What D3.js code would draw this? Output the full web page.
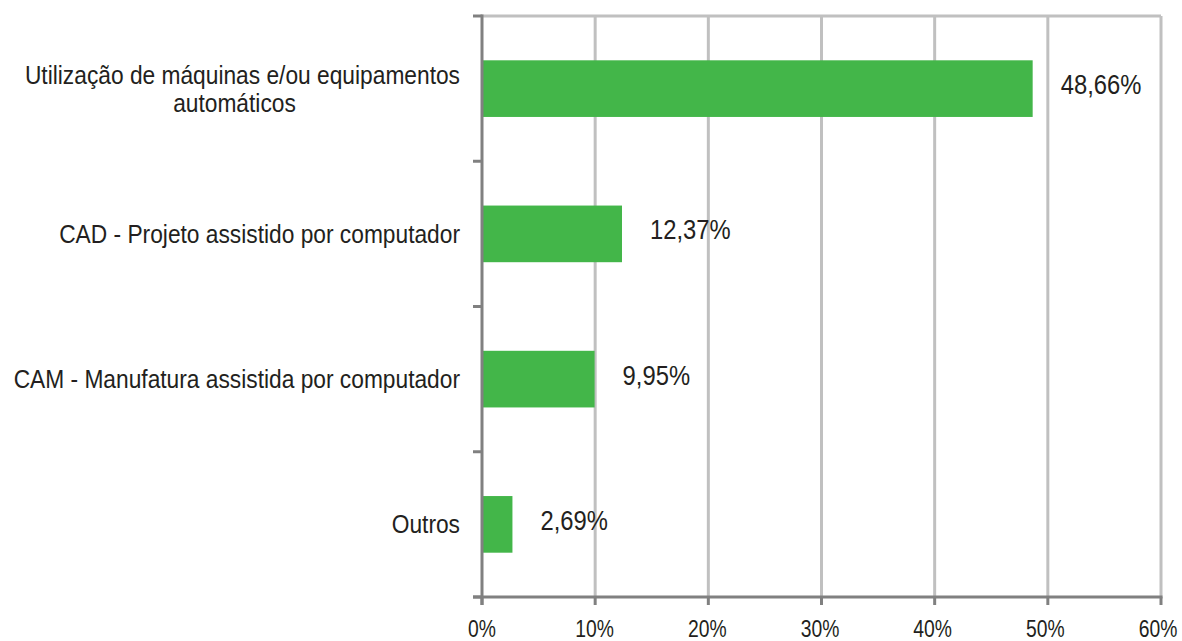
<!DOCTYPE html>
<html>
<head>
<meta charset="utf-8">
<script src="https://cdn.jsdelivr.net/npm/d3@7"></script>
<style>
  body { margin: 0; background: #fff; }
  text { font-family: "Liberation Sans", Arial, sans-serif; fill: #231f20; }
</style>
</head>
<body>
<svg id="svg" width="1182" height="641"></svg>
<script>
const categories = [
    ["Utilização de máquinas e/ou equipamentos", "automáticos"],
    ["CAD - Projeto assistido por computador"],
    ["CAM - Manufatura assistida por computador"],
    ["Outros"]
];
const values = [48.66, 12.37, 9.95, 2.69];
const tickValues = [0, 10, 20, 30, 40, 50, 60];

const margin = {top: 16, right: 21, bottom: 44, left: 482};
const width = 1182, height = 641;

const svg = d3.select("#svg");
const data = categories.map((c, i) => ({lines: c, value: values[i], key: i}));

const x = d3.scaleLinear([0, 60], [margin.left, width - margin.right]);
const y = d3.scaleBand(data.map(d => d.key), [margin.top, height - margin.bottom])
    .paddingInner(0.61)
    .paddingOuter(0.305);

const yBottom = height - margin.bottom;
const bandStep = y.step();

// squeeze text to look like a narrow font
function narrow(sel, factor) {
    sel.each(function() {
        const len = this.getComputedTextLength();
        d3.select(this)
            .attr("textLength", len * factor)
            .attr("lengthAdjust", "spacingAndGlyphs");
    });
}

// top border + gridlines
svg.append("line")
    .attr("x1", x(0)).attr("x2", x(60))
    .attr("y1", margin.top).attr("y2", margin.top)
    .attr("stroke", "#c0c0c0").attr("stroke-width", 3);

svg.append("g")
    .selectAll("line")
    .data(tickValues.filter(t => t > 0))
    .join("line")
    .attr("x1", d => x(d)).attr("x2", d => x(d))
    .attr("y1", margin.top).attr("y2", yBottom)
    .attr("stroke", "#c0c0c0").attr("stroke-width", 3);

// bars
svg.append("g")
    .selectAll("rect")
    .data(data)
    .join("rect")
    .attr("x", x(0))
    .attr("y", d => y(d.key))
    .attr("width", d => x(d.value) - x(0))
    .attr("height", y.bandwidth())
    .attr("fill", "#43b649");

// value labels
svg.append("g")
    .selectAll("text")
    .data(data)
    .join("text")
    .attr("x", d => x(d.value) + 28)
    .attr("y", d => y(d.key) + y.bandwidth() / 2 + 5.5)
    .attr("font-size", 28)
    .text(d => d.value.toFixed(2).replace(".", ",") + "%")
    .call(narrow, 0.85);

// left axis with ticks at category boundaries
const axisColor = "#808080";
svg.append("line")
    .attr("x1", x(0)).attr("x2", x(0))
    .attr("y1", margin.top - 1.5).attr("y2", yBottom + 8)
    .attr("stroke", axisColor).attr("stroke-width", 3);

const bounds = d3.range(data.length + 1).map(i => margin.top + i * bandStep);
svg.append("g")
    .selectAll("line")
    .data(bounds)
    .join("line")
    .attr("x1", x(0) - 9).attr("x2", x(0))
    .attr("y1", d => d).attr("y2", d => d)
    .attr("stroke", axisColor).attr("stroke-width", 3);

// bottom axis
svg.append("line")
    .attr("x1", x(0) - 9).attr("x2", x(60) + 1.5)
    .attr("y1", yBottom).attr("y2", yBottom)
    .attr("stroke", axisColor).attr("stroke-width", 3);

svg.append("g")
    .selectAll("line")
    .data(tickValues)
    .join("line")
    .attr("x1", d => x(d)).attr("x2", d => x(d))
    .attr("y1", yBottom).attr("y2", yBottom + 8)
    .attr("stroke", axisColor).attr("stroke-width", 3);

svg.append("g")
    .selectAll("text")
    .data(tickValues)
    .join("text")
    .attr("x", d => x(d))
    .attr("dx", d => -d / 20)
    .attr("y", yBottom + 40)
    .attr("text-anchor", "middle")
    .attr("font-size", 23)
    .text(d => d + "%")
    .call(narrow, 0.84);

// category labels
const labelRight = 460;
const lineHeight = 28;
const catLabel = svg.append("g")
    .selectAll("text")
    .data(data)
    .join("text")
    .attr("font-size", 25)
    .attr("text-anchor", "middle");

catLabel.each(function(d) {
    const t = d3.select(this);
    const cy = y(d.key) + y.bandwidth() / 2;
    const n = d.lines.length;
    const spans = d.lines.map((line, i) =>
        t.append("tspan")
            .attr("y", cy + 9 + (i - (n - 1) / 2) * lineHeight)
            .text(line)
    );
    const lens = spans.map(s => s.node().getComputedTextLength() * 0.91);
    const w = d3.max(lens);
    spans.forEach((s, i) => {
        s.attr("x", labelRight - w / 2 - (i > 0 ? 8 : 0))
            .attr("textLength", lens[i])
            .attr("lengthAdjust", "spacingAndGlyphs");
    });
});
</script>
</body>
</html>
